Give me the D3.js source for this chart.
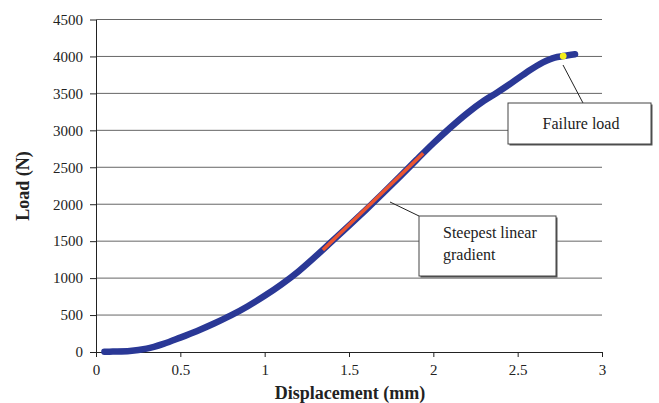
<!DOCTYPE html>
<html>
<head>
<meta charset="utf-8">
<script src="https://cdn.jsdelivr.net/npm/d3@7"></script>
<style>
  body { margin: 0; background: #fff; }
  text { font-family: "Liberation Serif", "Times New Roman", serif; }
</style>
</head>
<body>
<div id="chart"></div>
<script>
// load - displacement curve (mm, N)
var displacement = [0.05, 0.1, 0.2, 0.3, 0.4, 0.5, 0.6, 0.7, 0.8, 0.9, 1.0, 1.1, 1.2, 1.3, 1.4, 1.5, 1.6, 1.7, 1.8, 1.9, 2.0, 2.1, 2.2, 2.3, 2.37, 2.45, 2.55, 2.65, 2.72, 2.77, 2.84]
var load = [3, 6, 14, 45, 110, 195, 285, 385, 495, 620, 760, 915, 1090, 1290, 1500, 1710, 1925, 2145, 2370, 2600, 2825, 3035, 3230, 3400, 3500, 3620, 3780, 3920, 3985, 4005, 4030]
// steepest linear gradient segment
var gradientX = [1.345, 1.94]
var gradientY = [1380, 2690]
// failure point
var failureX = 2.77
var failureY = 4005

var xTicks = [0, 0.5, 1, 1.5, 2, 2.5, 3]
var yTicks = [0, 500, 1000, 1500, 2000, 2500, 3000, 3500, 4000, 4500]

var width = 659
var height = 403
var plotLeft = 96, plotRight = 602, plotTop = 19.5, plotBottom = 352

var svg = d3.select('#chart').append('svg')
    .attr('width', width)
    .attr('height', height)

var xScale = d3.scaleLinear().domain([0, 3]).range([plotLeft, plotRight])
var yScale = d3.scaleLinear().domain([0, 4500]).range([plotBottom, plotTop])

// gridlines
svg.append('g')
    .selectAll('line')
    .data(yTicks.filter(function (d) { return d > 0 }))
    .enter().append('line')
    .attr('x1', plotLeft)
    .attr('x2', plotRight)
    .attr('y1', function (d) { return yScale(d) })
    .attr('y2', function (d) { return yScale(d) })
    .attr('stroke', '#666')
    .attr('stroke-width', 1)

// axes
var x_axis = d3.axisBottom(xScale).tickValues(xTicks).tickFormat(d3.format('')).tickSizeInner(5).tickSizeOuter(0)
var axisX = svg.append('g').attr('transform', `translate(0, ${plotBottom})`).call(x_axis)
var y_axis = d3.axisLeft(yScale).tickValues(yTicks).tickFormat(d3.format('d')).tickSizeInner(6).tickSizeOuter(0)
var axisY = svg.append('g').attr('transform', `translate(${plotLeft}, 0)`).call(y_axis)

axisX.select('.domain').attr('stroke', '#222')
axisY.select('.domain').attr('stroke', '#222')
axisX.selectAll('.tick line').attr('stroke', '#222')
axisY.selectAll('.tick line').attr('stroke', '#222')
axisX.selectAll('text').attr('font-size', 15).attr('fill', '#222').attr('dy', '1.0em')
    .style('font-family', '"Liberation Serif", serif')
axisY.selectAll('text').attr('font-size', 15).attr('fill', '#222').attr('x', -13)
    .style('font-family', '"Liberation Serif", serif')

// curve
var pts = displacement.map(function (d, i) { return [d, load[i]] })
var line = d3.line()
    .x(function (d) { return xScale(d[0]) })
    .y(function (d) { return yScale(d[1]) })
    .curve(d3.curveMonotoneX)

svg.append('path')
    .attr('d', line(pts))
    .attr('fill', 'none')
    .attr('stroke', '#2a3896')
    .attr('stroke-width', 6.5)
    .attr('stroke-linecap', 'round')
    .attr('stroke-linejoin', 'round')

// steepest gradient
svg.append('line')
    .attr('x1', xScale(gradientX[0]))
    .attr('y1', yScale(gradientY[0]))
    .attr('x2', xScale(gradientX[1]))
    .attr('y2', yScale(gradientY[1]))
    .attr('stroke', '#ec5530')
    .attr('stroke-width', 3.5)

// failure point
svg.append('circle')
    .attr('cx', xScale(failureX))
    .attr('cy', yScale(failureY))
    .attr('r', 3.4)
    .attr('fill', '#f4ee1a')

// callouts
function callout(x, y, w, h, lineFrom, lineTo) {
    svg.append('line')
        .attr('x1', lineFrom[0]).attr('y1', lineFrom[1])
        .attr('x2', lineTo[0]).attr('y2', lineTo[1])
        .attr('stroke', '#222').attr('stroke-width', 1)
    svg.append('rect')
        .attr('x', x + 1.5).attr('y', y + 1.5).attr('width', w).attr('height', h)
        .attr('fill', '#555')
    svg.append('rect')
        .attr('x', x).attr('y', y).attr('width', w).attr('height', h)
        .attr('fill', '#fff').attr('stroke', '#444').attr('stroke-width', 1)
}

callout(508, 103, 143, 41, [563, 65], [583, 103])
svg.append('text').attr('x', 581).attr('y', 129).attr('text-anchor', 'middle')
    .attr('font-size', 16).attr('fill', '#222').text('Failure load')

callout(419, 216, 137, 60, [390, 202], [419, 216])
svg.append('text').attr('x', 443).attr('y', 238)
    .attr('font-size', 16).attr('fill', '#222').text('Steepest linear')
svg.append('text').attr('x', 443).attr('y', 260)
    .attr('font-size', 16).attr('fill', '#222').text('gradient')

// axis titles
svg.append('text')
    .attr('x', 350).attr('y', 399).attr('text-anchor', 'middle')
    .attr('font-size', 18).attr('font-weight', 'bold').attr('fill', '#222')
    .text('Displacement (mm)')
svg.append('text')
    .attr('transform', 'translate(29, 186) rotate(-90)')
    .attr('text-anchor', 'middle')
    .attr('font-size', 18).attr('font-weight', 'bold').attr('fill', '#222')
    .text('Load (N)')
</script>
</body>
</html>
